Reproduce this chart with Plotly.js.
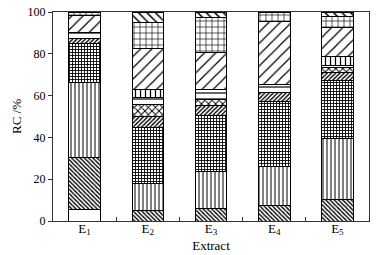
<!DOCTYPE html>
<html>
<head>
<meta charset="utf-8">
<script src="https://cdn.plot.ly/plotly-3.0.1.min.js"></script>
<style>html,body{margin:0;padding:0;background:#fff}#chart{width:376px;height:255px}</style>
</head>
<body>
<div id="chart"></div>
<script>
// Categories and stacked component values (%), bottom to top
const categories = ['E<sub>1</sub>', 'E<sub>2</sub>', 'E<sub>3</sub>', 'E<sub>4</sub>', 'E<sub>5</sub>'];
const c01_blank      = [5.3, 0, 0, 0, 0];
const c02_backDense  = [24.9, 4.9, 6.1, 7.3, 10.5];
const c03_vertical   = [36.1, 13.2, 17.5, 18.7, 29.2];
const c04_gridDense  = [18.6, 26.6, 26.8, 31.2, 27.3];
const c05_slashDense = [2.4, 5.3, 5.0, 4.2, 4.0];
const c06_cross      = [0, 5.6, 2.8, 0, 2.4];
const c07_horizontal = [2.9, 3.6, 4.6, 4.1, 1.1];
const c08_fence      = [0, 3.6, 0, 0, 4.2];
const c09_slash      = [8.1, 19.8, 17.6, 29.8, 13.8];
const c10_grid       = [1.7, 12.5, 16.8, 4.7, 5.5];
const c11_back       = [0, 4.9, 2.8, 0, 2.0];
const tickLabels = ['0', '20', '40', '60', '80', '100'];
const tickValues = [0, 20, 40, 60, 80, 100];

const series = [c01_blank, c02_backDense, c03_vertical, c04_gridDense, c05_slashDense,
                c06_cross, c07_horizontal, c08_fence, c09_slash, c10_grid, c11_back];
const patterns = [
  {shape: '', size: 6, solidity: 0.1},
  {shape: '\\', size: 3, solidity: 0.45},
  {shape: '|', size: 4, solidity: 0.25},
  {shape: '+', size: 3, solidity: 0.5},
  {shape: '/', size: 3, solidity: 0.45},
  {shape: 'x', size: 5, solidity: 0.35},
  {shape: '-', size: 6, solidity: 0.2},
  {shape: '|', size: 5, solidity: 0.25},
  {shape: '/', size: 8, solidity: 0.15},
  {shape: '+', size: 6, solidity: 0.2},
  {shape: '\\', size: 6, solidity: 0.25}
];

const traces = series.map((vals, i) => ({
  type: 'bar',
  x: categories,
  y: vals,
  name: 'C' + (i + 1),
  width: 0.5,
  marker: {
    color: 'white',
    line: {color: 'black', width: 1},
    pattern: Object.assign({fgcolor: 'black', bgcolor: 'white', fillmode: 'replace'}, patterns[i])
  },
  hoverinfo: 'y'
}));

const font = {family: '"Liberation Serif", "Times New Roman", serif', color: '#000'};

const layout = {
  width: 376, height: 255,
  margin: {l: 53, r: 7, t: 12, b: 34},
  barmode: 'stack',
  showlegend: false,
  paper_bgcolor: 'white',
  plot_bgcolor: 'white',
  font: Object.assign({size: 12}, font),
  xaxis: {
    type: 'category',
    showline: true, mirror: true, linecolor: '#333', linewidth: 1,
    ticks: 'inside', tickson: 'boundaries', ticklen: 4, tickcolor: '#333',
    showgrid: false, zeroline: false,
    ticklabelstandoff: -5,
    tickfont: Object.assign({size: 13}, font),
    title: {text: 'Extract', font: Object.assign({size: 13}, font), standoff: 4}
  },
  yaxis: {
    range: [0, 100],
    tickmode: 'array', tickvals: tickValues, ticktext: tickLabels,
    showline: true, mirror: true, linecolor: '#333', linewidth: 1,
    ticks: 'outside', ticklen: 4, tickcolor: '#333',
    showgrid: false, zeroline: false,
    tickfont: Object.assign({size: 12}, font),
    title: {text: 'RC /%', font: Object.assign({size: 13}, font), standoff: 3}
  }
};

Plotly.newPlot('chart', traces, layout, {staticPlot: true, displayModeBar: false});
</script>
</body>
</html>
